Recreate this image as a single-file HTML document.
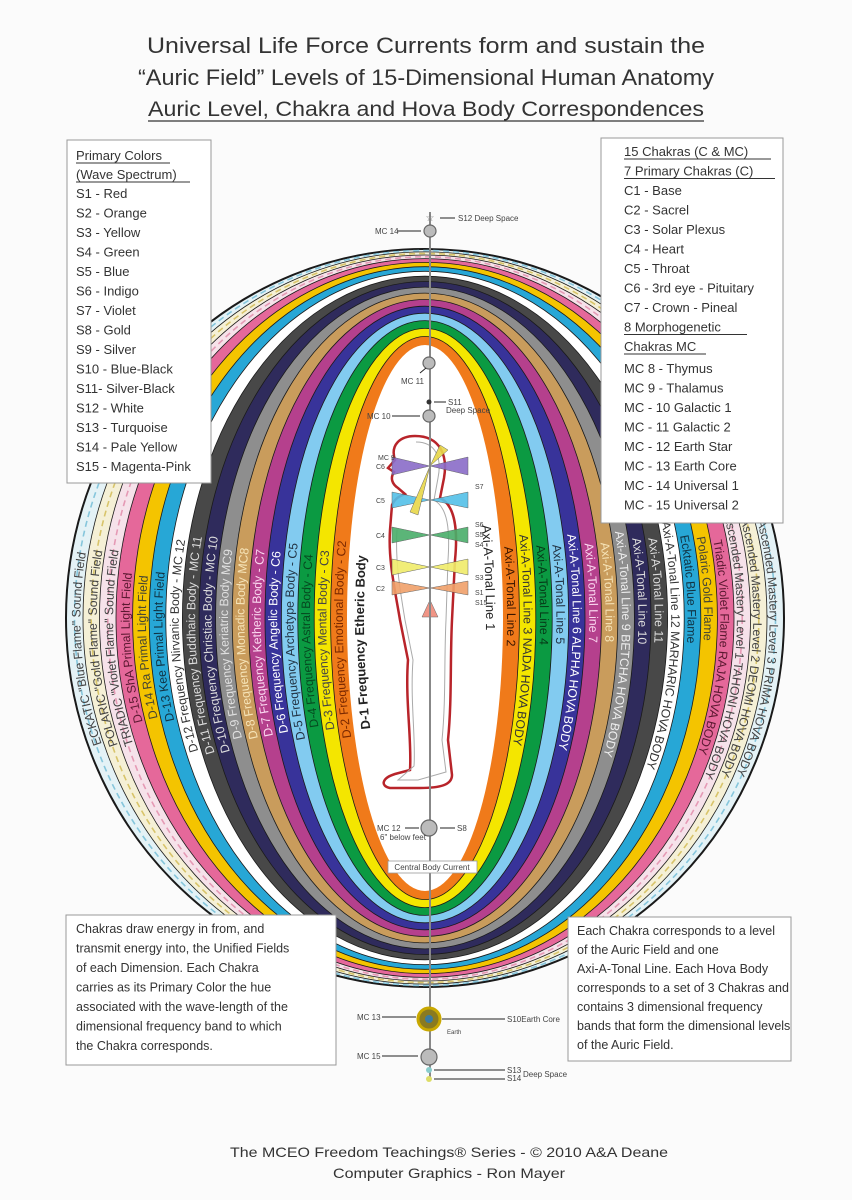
<!DOCTYPE html>
<html><head><meta charset="utf-8"><style>
html,body{margin:0;padding:0;background:#fff}
svg{display:block}
text{font-family:"Liberation Sans",sans-serif}
</style></head><body>
<svg width="852" height="1200" viewBox="0 0 852 1200" xmlns="http://www.w3.org/2000/svg">
<rect width="852" height="1200" fill="#fbfbfb"/>
<g fill="#333" text-anchor="middle">
<text x="426" y="53" font-size="22" textLength="558" lengthAdjust="spacingAndGlyphs">Universal Life Force Currents form and sustain the</text>
<text x="426" y="85" font-size="22" textLength="576" lengthAdjust="spacingAndGlyphs">“Auric Field” Levels of 15-Dimensional Human Anatomy</text>
<text x="426" y="116" font-size="21" textLength="556" lengthAdjust="spacingAndGlyphs">Auric Level, Chakra and Hova Body Correspondences</text>
</g>
<line x1="148" y1="121" x2="704" y2="121" stroke="#333" stroke-width="1.3"/>

<g stroke="#1a1a1a" stroke-width="0.8">
<ellipse cx="425" cy="618" rx="359" ry="369" fill="#e4f2f6" stroke-width="2"/>
<ellipse cx="425" cy="618" rx="342" ry="366.1" fill="#f5f0d6"/>
<ellipse cx="425" cy="618" rx="325.5" ry="363" fill="#f6e2ea"/>
<ellipse cx="425" cy="618" rx="309" ry="359.4" fill="#e5689a"/>
<ellipse cx="425" cy="618" rx="292.4" ry="355.6" fill="#f4c400"/>
<ellipse cx="425" cy="618" rx="275.8" ry="351.3" fill="#27a7d6"/>
<ellipse cx="425" cy="618" rx="259.2" ry="346.7" fill="#ffffff"/>
<ellipse cx="425" cy="618" rx="242.6" ry="341.8" fill="#484848"/>
<ellipse cx="425" cy="618" rx="226" ry="336.5" fill="#2f2b5c"/>
<ellipse cx="425" cy="618" rx="209.4" ry="330.9" fill="#8e8e8e"/>
<ellipse cx="425" cy="618" rx="192.8" ry="324.9" fill="#c99c5c"/>
<ellipse cx="425" cy="618" rx="176.4" ry="318.5" fill="#b5408d"/>
<ellipse cx="425" cy="618" rx="160" ry="311.8" fill="#38339a"/>
<ellipse cx="425" cy="618" rx="143.6" ry="304.8" fill="#82cbf0"/>
<ellipse cx="425" cy="618" rx="127.2" ry="297.4" fill="#0b9a42"/>
<ellipse cx="425" cy="618" rx="110.8" ry="289.6" fill="#f4e600"/>
<ellipse cx="425" cy="618" rx="94.4" ry="281.5" fill="#f07a1a"/>
<ellipse cx="425" cy="618" rx="78" ry="273" fill="#ffffff" stroke="none"/>
</g>
<g fill="none" stroke-width="1.6" stroke-dasharray="6 4">
<ellipse cx="425" cy="618" rx="350.5" ry="367.5" stroke="#86c6dc"/>
<ellipse cx="425" cy="618" rx="333.8" ry="364.5" stroke="#d8c46a"/>
<ellipse cx="425" cy="618" rx="317.2" ry="361.2" stroke="#e59ab5"/>
</g>

<defs>
<path id="L0" d="M382.6,818.7 A66,262 0 0 1 382.6,417.3"/>
<path id="L1" d="M369.6,830.3 A86.2,277.2 0 0 1 369.6,405.7"/>
<path id="L2" d="M359,836.7 A102.6,285.5 0 0 1 359,399.3"/>
<path id="L3" d="M348.5,842.8 A119,293.5 0 0 1 348.5,393.2"/>
<path id="L4" d="M337.9,848.6 A135.4,301.1 0 0 1 337.9,387.4"/>
<path id="L5" d="M327.4,854.2 A151.8,308.3 0 0 1 327.4,381.8"/>
<path id="L6" d="M316.8,859.4 A168.2,315.1 0 0 1 316.8,376.6"/>
<path id="L7" d="M306.3,864.4 A184.6,321.7 0 0 1 306.3,371.6"/>
<path id="L8" d="M295.8,869.2 A201,327.9 0 0 1 295.8,366.8"/>
<path id="L9" d="M285.2,873.6 A217.4,333.7 0 0 1 285.2,362.4"/>
<path id="L10" d="M274.7,877.8 A233.8,339.1 0 0 1 274.7,358.2"/>
<path id="L11" d="M264.1,881.7 A250.2,344.2 0 0 1 264.1,354.3"/>
<path id="L12" d="M253.6,885.3 A266.6,349 0 0 1 253.6,350.7"/>
<path id="L13" d="M243,888.7 A283,353.4 0 0 1 243,347.3"/>
<path id="L14" d="M232.5,891.8 A299.4,357.5 0 0 1 232.5,344.2"/>
<path id="L15" d="M221.9,894.7 A315.8,361.2 0 0 1 221.9,341.3"/>
<path id="L16" d="M211.4,897.2 A332.2,364.5 0 0 1 211.4,338.8"/>
<path id="L17" d="M200.9,899.5 A348.6,367.5 0 0 1 200.9,336.5"/>
<path id="R0" d="M467.4,417.3 A66,262 0 0 1 467.4,818.7"/>
<path id="R1" d="M480.4,405.7 A86.2,277.2 0 0 1 480.4,830.3"/>
<path id="R2" d="M491,399.3 A102.6,285.5 0 0 1 491,836.7"/>
<path id="R3" d="M501.5,393.2 A119,293.5 0 0 1 501.5,842.8"/>
<path id="R4" d="M512.1,387.4 A135.4,301.1 0 0 1 512.1,848.6"/>
<path id="R5" d="M522.6,381.8 A151.8,308.3 0 0 1 522.6,854.2"/>
<path id="R6" d="M533.2,376.6 A168.2,315.1 0 0 1 533.2,859.4"/>
<path id="R7" d="M543.7,371.6 A184.6,321.7 0 0 1 543.7,864.4"/>
<path id="R8" d="M554.2,366.8 A201,327.9 0 0 1 554.2,869.2"/>
<path id="R9" d="M564.8,362.4 A217.4,333.7 0 0 1 564.8,873.6"/>
<path id="R10" d="M575.3,358.2 A233.8,339.1 0 0 1 575.3,877.8"/>
<path id="R11" d="M585.9,354.3 A250.2,344.2 0 0 1 585.9,881.7"/>
<path id="R12" d="M596.4,350.7 A266.6,349 0 0 1 596.4,885.3"/>
<path id="R13" d="M607,347.3 A283,353.4 0 0 1 607,888.7"/>
<path id="R14" d="M617.5,344.2 A299.4,357.5 0 0 1 617.5,891.8"/>
<path id="R15" d="M628.1,341.3 A315.8,361.2 0 0 1 628.1,894.7"/>
<path id="R16" d="M638.6,338.8 A332.2,364.5 0 0 1 638.6,897.2"/>
<path id="R17" d="M649.1,336.5 A348.6,367.5 0 0 1 649.1,899.5"/>
</defs>
<g font-size="12.3" text-anchor="middle" dominant-baseline="central">
<text fill="#222" font-size="13" font-weight="bold"><textPath href="#L0" startOffset="44%">D-1 Frequency  Etheric Body</textPath></text>
<text fill="#7a2800"><textPath href="#L1" startOffset="45%">D-2 Frequency  Emotional Body - C2</textPath></text>
<text fill="#444"><textPath href="#L2" startOffset="45%">D-3 Frequency  Mental Body - C3</textPath></text>
<text fill="#064a20"><textPath href="#L3" startOffset="45%">D-4 Frequency  Astral Body - C4</textPath></text>
<text fill="#234"><textPath href="#L4" startOffset="45%">D-5 Frequency  Archetype Body - C5</textPath></text>
<text fill="#fff"><textPath href="#L5" startOffset="45%">D-6 Frequency  Angelic Body - C6</textPath></text>
<text fill="#fbd8f0"><textPath href="#L6" startOffset="45%">D-7 Frequency  Ketheric Body - C7</textPath></text>
<text fill="#f6e4b8"><textPath href="#L7" startOffset="45%">D-8 Frequency  Monadic Body  MC8</textPath></text>
<text fill="#e0e0e0"><textPath href="#L8" startOffset="45%">D-9 Frequency  Keriatric Body  MC9</textPath></text>
<text fill="#ddd"><textPath href="#L9" startOffset="45%">D-10 Frequency  Christiac Body - MC 10</textPath></text>
<text fill="#ddd"><textPath href="#L10" startOffset="45%">D-11 Frequency  Buddhaic Body - MC 11</textPath></text>
<text fill="#333"><textPath href="#L11" startOffset="45%">D-12 Frequency  Nirvanic Body - MC 12</textPath></text>
<text fill="#134"><textPath href="#L12" startOffset="45%">D-13 Kee  Primal Light Field</textPath></text>
<text fill="#443"><textPath href="#L13" startOffset="45%">D-14 Ra  Primal Light Field</textPath></text>
<text fill="#5a1830"><textPath href="#L14" startOffset="45%">D-15 ShA  Primal Light Field</textPath></text>
<text fill="#444"><textPath href="#L15" startOffset="45%">TRIADIC "Violet Flame" Sound Field</textPath></text>
<text fill="#444"><textPath href="#L16" startOffset="45%">POLARIC "Gold Flame" Sound Field</textPath></text>
<text fill="#444"><textPath href="#L17" startOffset="45%">ECKATIC "Blue Flame" Sound Field</textPath></text>

<text fill="#222" font-size="13"><textPath href="#R0" startOffset="40%">Axi-A-Tonal Line 1</textPath></text>
<text fill="#3a1500"><textPath href="#R1" startOffset="45%">Axi-A-Tonal Line 2</textPath></text>
<text fill="#333"><textPath href="#R2" startOffset="55%">Axi-A-Tonal Line 3  NADA HOVA BODY</textPath></text>
<text fill="#063a18"><textPath href="#R3" startOffset="45%">Axi-A-Tonal Line 4</textPath></text>
<text fill="#234"><textPath href="#R4" startOffset="45%">Axi-A-Tonal Line 5</textPath></text>
<text fill="#fff"><textPath href="#R5" startOffset="55%">Axi-A-Tonal Line 6  ALPHA HOVA BODY</textPath></text>
<text fill="#fbd8f0"><textPath href="#R6" startOffset="45%">Axi-A-Tonal Line 7</textPath></text>
<text fill="#f6e4b8"><textPath href="#R7" startOffset="45%">Axi-A-Tonal Line 8</textPath></text>
<text fill="#eee"><textPath href="#R8" startOffset="55%">Axi-A-Tonal Line 9  BETCHA HOVA BODY</textPath></text>
<text fill="#ddd"><textPath href="#R9" startOffset="45%">Axi-A-Tonal Line 10</textPath></text>
<text fill="#ddd"><textPath href="#R10" startOffset="45%">Axi-A-Tonal Line 11</textPath></text>
<text fill="#333"><textPath href="#R11" startOffset="55%">Axi-A-Tonal Line 12  MARHARIC HOVA BODY</textPath></text>
<text fill="#134"><textPath href="#R12" startOffset="45%">Ecktatic Blue Flame</textPath></text>
<text fill="#443"><textPath href="#R13" startOffset="45%">Polaric Gold Flame</textPath></text>
<text fill="#5a1830"><textPath href="#R14" startOffset="55%">Triadic Violet Flame  RAJA HOVA BODY</textPath></text>
<text fill="#444"><textPath href="#R15" startOffset="55%">Ascended Mastery Level 1  TAHONI HOVA BODY</textPath></text>
<text fill="#444"><textPath href="#R16" startOffset="55%">Ascended Mastery Level 2  DEOMI HOVA BODY</textPath></text>
<text fill="#444"><textPath href="#R17" startOffset="55%">Ascended Mastery Level 3  PRIMA HOVA BODY</textPath></text>
</g>

<path d="M415,436 C440,436 448,455 444,478 L440,498 C455,505 458,530 455,560 L452,620 C450,660 452,700 448,740 L452,775 C452,785 440,788 420,788 L390,788 C380,786 382,778 395,774 L410,770 C412,740 405,700 408,660 L400,620 C395,590 388,560 390,530 L392,505 C395,498 400,496 405,494 L398,488 C392,484 390,478 394,472 L388,468 L395,460 C390,445 400,436 415,436 Z" fill="none" stroke="#b8242a" stroke-width="2.5"/>
<path d="M416,442 C436,442 442,458 438,478 L434,500 C448,508 450,530 448,560 L446,620 C444,660 446,700 442,740 L446,772 L418,780 L398,780 L414,766 C416,740 410,700 413,660 L405,620 C400,590 395,560 397,530" fill="none" stroke="#aaa" stroke-width="1"/>
<g stroke="#555" stroke-width="0.5" opacity="0.9">
<path d="M430,466 L392,457 L392,475 Z M430,466 L468,457 L468,475 Z" fill="#8a6cc8"/>
<path d="M430,500 L392,492 L392,508 Z M430,500 L468,492 L468,508 Z" fill="#54c0e8"/>
<path d="M430,535 L392,527 L392,543 Z M430,535 L468,527 L468,543 Z" fill="#4aae6a"/>
<path d="M430,567 L392,559 L392,575 Z M430,567 L468,559 L468,575 Z" fill="#f0ec6a"/>
<path d="M430,588 L392,581 L392,595 Z M430,588 L468,581 L468,595 Z" fill="#f0a06a"/>
<path d="M430,600 L422,617 L438,617 Z" fill="#f08a7a"/>
<path d="M430,466 L440,445 L448,450 Z M430,466 L418,515 L410,512 Z" fill="#e8d84a"/>
</g>
<line x1="430" y1="212" x2="430" y2="1080" stroke="#888" stroke-width="2"/>
<g fill="#bbb" stroke="#666" stroke-width="1.2">
<circle cx="430" cy="231" r="6"/>
<circle cx="429" cy="363" r="6"/>
<circle cx="429" cy="416" r="6"/>
<circle cx="429" cy="828" r="8"/>
<circle cx="429" cy="1057" r="8"/>
</g>
<circle cx="429" cy="1019" r="11" fill="#8a7a20" stroke="#c9a800" stroke-width="3"/>
<circle cx="429" cy="1019" r="4" fill="#3a7aa0"/>
<circle cx="429" cy="402" r="2.5" fill="#333"/>
<circle cx="429" cy="1070" r="3" fill="#8cc"/>
<circle cx="429" cy="1079" r="3" fill="#dd6"/>
<text x="430" y="221" font-size="10" fill="#777" text-anchor="middle">☆</text>
<g stroke="#222" stroke-width="1" fill="none">
<line x1="440" y1="218" x2="455" y2="218"/><line x1="397" y1="231" x2="421" y2="231"/>
<line x1="420" y1="373" x2="426" y2="368"/><line x1="434" y1="402" x2="446" y2="402"/>
<line x1="392" y1="416" x2="420" y2="416"/>
<line x1="405" y1="828" x2="419" y2="828"/><line x1="440" y1="828" x2="455" y2="828"/>
<line x1="382" y1="1017" x2="416" y2="1017"/><line x1="442" y1="1019" x2="505" y2="1019"/>
<line x1="382" y1="1056" x2="418" y2="1056"/>
<line x1="434" y1="1070" x2="505" y2="1070"/><line x1="434" y1="1079" x2="505" y2="1079"/>
</g>
<g font-size="8" fill="#444">
<text x="458" y="221">S12 Deep Space</text>
<text x="375" y="234">MC 14</text>
<text x="401" y="384">MC 11</text>
<text x="448" y="405">S11</text>
<text x="446" y="413">Deep Space</text>
<text x="367" y="419">MC 10</text>
<text x="377" y="831">MC 12</text>
<text x="380" y="840">6" below feet</text>
<text x="457" y="831">S8</text>
<text x="357" y="1020">MC 13</text>
<text x="507" y="1022">S10Earth Core</text>
<text x="447" y="1034" font-size="6">Earth</text>
<text x="357" y="1059">MC 15</text>
<text x="507" y="1073">S13</text><text x="507" y="1081">S14</text>
<text x="523" y="1077">Deep Space</text>
<text x="378" y="460" font-size="7">MC 9</text>
<text x="376" y="469" font-size="7">C6</text>
<text x="376" y="503" font-size="7">C5</text>
<text x="376" y="538" font-size="7">C4</text>
<text x="376" y="570" font-size="7">C3</text>
<text x="376" y="591" font-size="7">C2</text>
<text x="475" y="489" font-size="7">S7</text>
<text x="475" y="527" font-size="7">S6</text>
<text x="475" y="537" font-size="7">S5</text>
<text x="475" y="547" font-size="7">S4</text>
<text x="475" y="580" font-size="7">S3</text>
<text x="475" y="595" font-size="7">S1</text>
<text x="475" y="605" font-size="7">S15</text>
</g>
<rect x="388" y="861" width="89" height="12" fill="#fff" stroke="#999" stroke-width="0.8"/>
<text x="432" y="870" font-size="8" fill="#444" text-anchor="middle">Central Body Current</text>

<rect x="67" y="140" width="144" height="343" fill="#fff" stroke="#999" stroke-width="1"/>
<g font-size="13" fill="#333">
<text x="76" y="160">Primary Colors</text>
<text x="76" y="179">(Wave Spectrum)</text>
<text x="76" y="198">S1 - Red</text>
<text x="76" y="217.5">S2 - Orange</text>
<text x="76" y="237">S3 - Yellow</text>
<text x="76" y="256.5">S4 - Green</text>
<text x="76" y="276">S5 - Blue</text>
<text x="76" y="295.5">S6 - Indigo</text>
<text x="76" y="315">S7 - Violet</text>
<text x="76" y="334.5">S8 - Gold</text>
<text x="76" y="354">S9 - Silver</text>
<text x="76" y="373.5">S10 - Blue-Black</text>
<text x="76" y="393">S11- Silver-Black</text>
<text x="76" y="412.5">S12 - White</text>
<text x="76" y="432">S13 - Turquoise</text>
<text x="76" y="451.5">S14 - Pale Yellow</text>
<text x="76" y="471">S15 - Magenta-Pink</text>
</g>
<line x1="76" y1="163" x2="170" y2="163" stroke="#333"/>
<line x1="76" y1="182" x2="190" y2="182" stroke="#333"/>

<rect x="601" y="138" width="182" height="385" fill="#fff" stroke="#999" stroke-width="1"/>
<g font-size="13" fill="#333">
<text x="624" y="156">15 Chakras (C &amp; MC)</text>
<text x="624" y="175.5">7 Primary Chakras (C)</text>
<text x="624" y="195">C1 - Base</text>
<text x="624" y="214.5">C2 - Sacrel</text>
<text x="624" y="234">C3 - Solar Plexus</text>
<text x="624" y="253.5">C4 - Heart</text>
<text x="624" y="273">C5 - Throat</text>
<text x="624" y="292.5">C6 - 3rd eye - Pituitary</text>
<text x="624" y="312">C7 - Crown - Pineal</text>
<text x="624" y="331.5">8 Morphogenetic</text>
<text x="624" y="351">Chakras MC</text>
<text x="624" y="373">MC 8 - Thymus</text>
<text x="624" y="392.5">MC 9 - Thalamus</text>
<text x="624" y="412">MC - 10 Galactic 1</text>
<text x="624" y="431.5">MC - 11 Galactic 2</text>
<text x="624" y="451">MC - 12 Earth Star</text>
<text x="624" y="470.5">MC - 13 Earth Core</text>
<text x="624" y="490">MC - 14 Universal 1</text>
<text x="624" y="509.5">MC - 15 Universal 2</text>
</g>
<g stroke="#333"><line x1="624" y1="159" x2="771" y2="159"/><line x1="624" y1="178.5" x2="775" y2="178.5"/><line x1="624" y1="334.5" x2="747" y2="334.5"/><line x1="624" y1="354" x2="706" y2="354"/></g>

<rect x="66" y="915" width="270" height="150" fill="#fff" stroke="#999" stroke-width="1"/>
<g font-size="12.5" fill="#333">
<text x="76" y="933">Chakras draw energy in from, and</text>
<text x="76" y="952.5">transmit energy into, the Unified Fields</text>
<text x="76" y="972">of each Dimension. Each Chakra</text>
<text x="76" y="991.5">carries as its Primary Color the hue</text>
<text x="76" y="1011">associated with the wave-length of the</text>
<text x="76" y="1030.5">dimensional frequency band to which</text>
<text x="76" y="1050">the Chakra corresponds.</text>
</g>
<rect x="568" y="917" width="223" height="144" fill="#fff" stroke="#999" stroke-width="1"/>
<g font-size="12.5" fill="#333">
<text x="577" y="935">Each Chakra corresponds to a level</text>
<text x="577" y="954">of the Auric Field and one</text>
<text x="577" y="973">Axi-A-Tonal Line. Each Hova Body</text>
<text x="577" y="992">corresponds to a set of 3 Chakras and</text>
<text x="577" y="1011">contains 3 dimensional frequency</text>
<text x="577" y="1030">bands that form the dimensional levels</text>
<text x="577" y="1049">of the Auric Field.</text>
</g>

<g fill="#333" font-size="14" text-anchor="middle">
<text x="449" y="1157" textLength="438" lengthAdjust="spacingAndGlyphs">The MCEO Freedom Teachings® Series - © 2010 A&amp;A Deane</text>
<text x="449" y="1178" textLength="232" lengthAdjust="spacingAndGlyphs">Computer Graphics - Ron Mayer</text>
</g>
</svg>
</body></html>
